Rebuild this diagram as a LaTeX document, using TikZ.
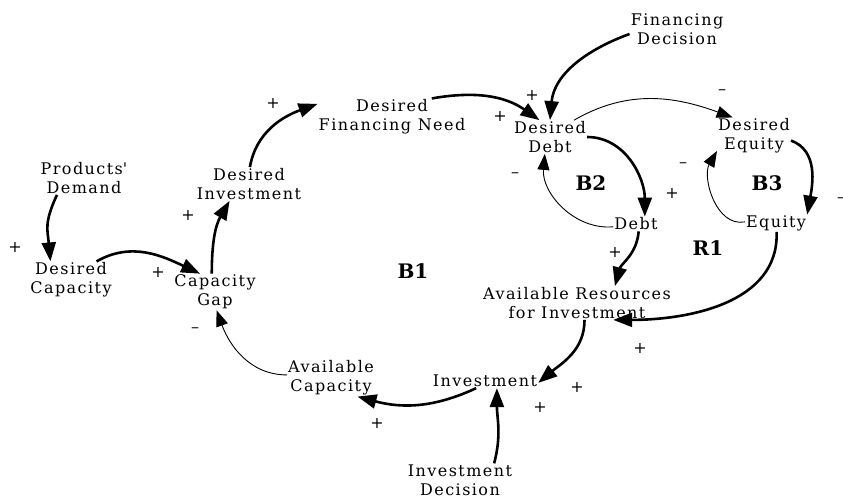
\documentclass[tikz,border=0pt]{standalone}
\usepackage{fontspec}
\usepackage{tikz}
\usetikzlibrary{arrows.meta, positioning}

\newfontfamily\loopfont{DejaVu Serif}[LetterSpace=9]
\newfontfamily\signfont{DejaVu Serif}
\newfontfamily\boldloopfont{DejaVu Serif Bold}

\begin{document}
\begin{tikzpicture}[
    x=1pt, y=1pt,
    var/.style={align=center, inner sep=1pt, font=\loopfont\fontsize{16}{19}\selectfont},
    sign/.style={inner sep=0pt, font=\signfont\fontsize{16}{16}\selectfont},
    looplabel/.style={inner sep=0pt, font=\boldloopfont\fontsize{20}{20}\selectfont},
    link/.style={-{Triangle[length=19pt,width=14pt]}, line width=2.6pt},
    weak/.style={-{Triangle[length=16pt,width=12pt]}, line width=0.9pt}
]
\path[use as bounding box, fill=white] (0,0) rectangle (843,-498);

% Variables
\node[var] (fdec) at (677,-29) {Financing\\Decision};
\node[var] (dfin) at (392,-117) {Desired\\Financing Need};
\node[var] (ddebt) at (550,-137) {Desired\\Debt};
\node[var] (dequity) at (754,-136) {Desired\\Equity};
\node[var] (pd) at (84,-178) {Products\textquotesingle\\Demand};
\node[var] (dinv) at (249,-184) {Desired\\Investment};
\node[var] (dcap) at (71,-280) {Desired\\Capacity};
\node[var] (gap) at (215,-292) {Capacity\\Gap};
\node[var] (debt) at (636,-224) {Debt};
\node[var] (equity) at (776,-223) {Equity};
\node[var] (avres) at (577,-303) {Available Resources\\for Investment};
\node[var] (avcap) at (331,-378) {Available\\Capacity};
\node[var] (inv) at (485,-381) {Investment};
\node[var] (invdec) at (460,-480) {Investment\\Decision};

% Loop names
\node[looplabel] (b1) at (413,-271) {B1};
\node[looplabel] (b2) at (591,-183) {B2};
\node[looplabel] (b3) at (767,-183) {B3};
\node[looplabel] (r1) at (708,-248) {R1};

% Causal links
\draw[link] (pd.212) to[out=245, in=95, looseness=1.2] (dcap.138);
\draw[link] (dcap.36) to[out=30, in=155] (gap.129);
\draw[link] (gap.100) to[out=90, in=240] (dinv.221);
\draw[link] (dinv.87) to[out=80, in=200] (dfin.170);
\draw[link] (dfin.25) to[out=10, in=145] (ddebt.122);
\draw[link] (fdec.186) to[out=200, in=85] (ddebt.90);
\draw[weak] (ddebt.35) to[out=30, in=160] (dequity.139);
\draw[link] (ddebt.0) to[out=0, in=90] (debt.40);
\draw[weak] (debt.187) to[out=185, in=265] (ddebt.253);
\draw[link] (dequity.353) to[out=-20, in=80] (equity.15);
\draw[weak] (equity.178) to[out=190, in=240] (dequity.202);
\draw[link] (debt.290) to[out=-95, in=75] (avres.24);
\draw[link] (equity.274) to[out=-88, in=0] (avres.335);
\draw[link] (avres.294) to[out=-90, in=40] (inv.358);
\draw[link] (inv.219) to[out=205, in=-15] (avcap.325);
\draw[link] (invdec.26) to[out=75, in=-90] (inv.329);
\draw[weak] (avcap.176) to[out=180, in=-70] (gap.275);

% Polarities
\node[sign] (s1) at (15,-247) {+};
\node[sign] (s2) at (158,-272) {+};
\node[sign] (s3) at (188,-215) {+};
\node[sign] (s4) at (273,-103) {+};
\node[sign] (s5) at (500,-116) {+};
\node[sign] (s6) at (532,-95) {+};
\node[sign] (s7) at (722,-92) {\textendash};
\node[sign] (s8) at (672,-193) {+};
\node[sign] (s9) at (515,-175) {\textendash};
\node[sign] (s10) at (841,-200) {\textendash};
\node[sign] (s11) at (683,-165) {\textendash};
\node[sign] (s12) at (615,-252) {+};
\node[sign] (s13) at (640,-348) {+};
\node[sign] (s14) at (577,-387) {+};
\node[sign] (s15) at (377,-423) {+};
\node[sign] (s16) at (540,-407) {+};
\node[sign] (s17) at (195,-330) {\textendash};

\end{tikzpicture}
\end{document}
